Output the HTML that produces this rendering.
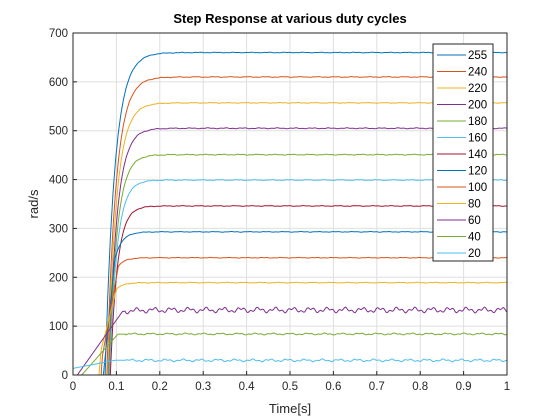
<!DOCTYPE html>
<html><head><meta charset="utf-8"><style>
body{margin:0;background:#fff;}
svg{display:block;font-family:"Liberation Sans",sans-serif;}
</style></head><body>
<svg id="c" width="560" height="420">
<rect x="0" y="0" width="560" height="420" fill="#fff"/>
<rect x="73" y="33" width="434" height="342" fill="#fff"/>
<g id="grid"></g>
<g id="series"></g>
<rect x="73" y="33" width="434" height="342" fill="none" stroke="#262626" stroke-width="1"/>
<g id="ticks"></g>
<text x="290" y="23" text-anchor="middle" font-size="13" font-weight="bold" fill="#000">Step Response at various duty cycles</text>
<text x="290" y="413" text-anchor="middle" font-size="13" fill="#262626">Time[s]</text>
<text x="38" y="204" text-anchor="middle" font-size="13" fill="#262626" transform="rotate(-90 38 204)">rad/s</text>
<g id="legend"></g>
</svg>
<script>
const labels=["255","240","220","200","180","160","140","120","100","80","60","40","20"];
const finals=[660,610,557,505,451,399,346,293,240,189,133,84,30];
const onsets=[0.074,0.078,0.080,0.082,0.083,0.084,0.086,0.07,0.065,0.06,0.0,0.0,-0.06];
const taus=[0.022,0.021,0.02,0.019,0.018,0.017,0.016,0.016,0.015,0.015,0.03,0.02,0.02];
const rampStart=[0.074,0.055,0.05,0.082,0.083,0.075,0.086,0.07,0.06,0.05,0.01,0.02,-0.08];
const rampSlope=[1e6,15000,12000,1e6,1e6,20000,1e6,9000,5000,3500,1250,1000,170];
const ripple=[0.7,0.8,0.7,1,1,0.8,0.8,0.7,0.7,0.8,6,2,3];
const colors=["#0072BD","#D95319","#EDB120","#7E2F8E","#77AC30","#4DBEEE","#A2142F","#0072BD","#D95319","#EDB120","#7E2F8E","#77AC30","#4DBEEE"];
const xTicks=[0,0.1,0.2,0.3,0.4,0.5,0.6,0.7,0.8,0.9,1];
const yTicks=[0,100,200,300,400,500,600,700];
const X0=73,X1=507,Y0=375,Y1=33;
const sx=t=>X0+t*(X1-X0), sy=v=>Y0-v/700*(Y0-Y1);
const NS="http://www.w3.org/2000/svg";
const mk=(tag,a,p)=>{const e=document.createElementNS(NS,tag);for(const k in a)e.setAttribute(k,a[k]);p.appendChild(e);return e;};
const grid=document.getElementById('grid'),ticks=document.getElementById('ticks');
xTicks.forEach(t=>{
 const g=mk('line',{x1:sx(t),x2:sx(t),y1:Y1,y2:Y0,stroke:'#dfdfdf','stroke-width':1},grid);
 
 
 const tk=mk('line',{x1:sx(t),x2:sx(t),y1:Y0,y2:Y0-4,stroke:'#262626'},ticks);
 
 
 const tx=mk('text',{x:sx(t),y:Y0+15,'text-anchor':'middle','font-size':11.5,fill:'#262626'},ticks);
 tx.textContent=String(t);
 
 
});
yTicks.forEach(v=>{
 const g=mk('line',{x1:X0,x2:X1,y1:sy(v),y2:sy(v),stroke:'#dfdfdf','stroke-width':1},grid);
 
 
 const tk=mk('line',{x1:X0,x2:X0+4,y1:sy(v),y2:sy(v),stroke:'#262626'},ticks);
 
 
 const tx=mk('text',{x:X0-5,y:sy(v)+4,'text-anchor':'end','font-size':11.5,fill:'#262626'},ticks);
 tx.textContent=String(v);
 
 
});
const sg=document.getElementById('series');
const clip=mk('clipPath',{id:'pc'},mk('defs',{},sg));
mk('rect',{x:X0,y:Y1,width:X1-X0,height:Y0-Y1},clip);
finals.forEach((V,i)=>{
 let d='';
 for(let k=0;k<=500;k++){
  const t=k/500;
  let e=V*(1-Math.exp(-(t-onsets[i])/taus[i]));
  let r=rampSlope[i]*(t-rampStart[i]);
  let v=Math.min(e,r);
  if(t>0.12) v+=ripple[i]*(Math.sin(t*157+i)*0.6+Math.sin(t*431+i*2)*0.4);
  v=Math.max(v,-20);
  d+=(k?'L':'M')+sx(t).toFixed(1)+' '+sy(v).toFixed(1);
 }
 const p=mk('path',{d:d,fill:'none',stroke:colors[i],'stroke-width':1,'clip-path':'url(#pc)'},sg);
 
 
});
const lg=document.getElementById('legend');
const box=mk('rect',{x:433,y:44,width:60,height:217,fill:'#fff',stroke:'#262626','stroke-width':1},lg);


labels.forEach((l,i)=>{
 const y=55+i*16.5;
 const ln=mk('line',{x1:437,x2:466,y1:y,y2:y,stroke:colors[i],'stroke-width':1},lg);
 
 
 const tx=mk('text',{x:468,y:y+4,'font-size':11.5,fill:'#000'},lg);
 tx.textContent=l;
 
 
});
</script>
</body></html>
